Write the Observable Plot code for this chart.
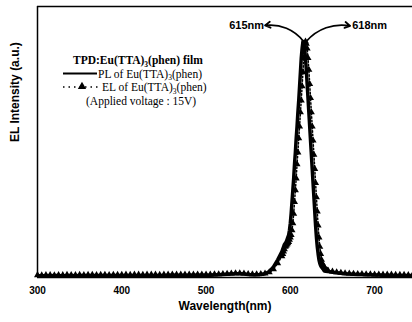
<!DOCTYPE html>
<html><head><meta charset="utf-8">
<script src="https://cdn.jsdelivr.net/npm/d3@7"></script>
<script src="https://cdn.jsdelivr.net/npm/@observablehq/plot@0.6"></script>
<style>body{margin:0;background:#fff}#chart{width:412px;height:322px;overflow:hidden}</style>
</head><body><div id="chart"></div>
<script>
// Wavelength sampling (nm)
const wavelength = [
300,305,310,315,320,325,330,335,340,345,350,355,360,365,370,375,380,385,390,395,
400,405,410,415,420,425,430,435,440,445,450,455,460,465,470,475,480,485,490,495,
500,505,510,515,520,525,530,535,540,545,550,555,560,565,570,575,580,585,
590,591,592,593,594,595,596,597,598,599,600,601,602,603,604,605,606,607,608,609,
610,611,612,613,614,615,616,617,618,619,620,621,622,623,624,625,626,627,628,629,
630,631,632,633,634,635,636,637,638,639,640,641,642,643,644,645,
650,655,660,665,670,675,680,685,690,695,700,705,710,715,720,725,730,735,740,745];

// PL of Eu(TTA)3(phen), normalized
const plIntensity = [
0.008,0.006,0.008,0.007,0.008,0.008,0.006,0.008,0.008,0.007,0.008,0.008,0.009,0.008,0.008,0.009,0.008,0.009,0.008,0.008,
0.009,0.009,0.008,0.009,0.009,0.009,0.009,0.008,0.009,0.009,0.009,0.010,0.010,0.010,0.010,0.009,0.010,0.010,0.010,0.010,
0.010,0.010,0.011,0.012,0.013,0.014,0.015,0.016,0.016,0.015,0.013,0.012,0.012,0.013,0.016,0.025,0.045,0.075,
0.11,0.12,0.13,0.14,0.145,0.15,0.16,0.17,0.18,0.20,0.23,0.27,0.32,0.37,0.42,0.48,0.53,0.59,0.64,0.70,
0.75,0.81,0.87,0.93,0.97,1.00,0.99,0.97,0.93,0.88,0.82,0.76,0.70,0.64,0.58,0.52,0.46,0.40,0.34,0.28,
0.22,0.17,0.13,0.10,0.075,0.06,0.05,0.045,0.04,0.035,0.03,0.03,0.028,0.026,0.025,0.025,
0.022,0.02,0.018,0.016,0.015,0.014,0.013,0.013,0.012,0.012,0.011,0.011,0.010,0.010,0.010,0.009,0.009,0.009,0.008,0.008];

// EL of Eu(TTA)3(phen), normalized (applied voltage 15 V)
const elIntensity = [
0.010,0.009,0.010,0.010,0.009,0.010,0.010,0.011,0.010,0.010,0.011,0.010,0.011,0.011,0.010,0.011,0.011,0.010,0.011,0.011,
0.011,0.012,0.011,0.012,0.012,0.011,0.012,0.012,0.012,0.011,0.012,0.012,0.013,0.012,0.012,0.013,0.013,0.012,0.013,0.013,
0.013,0.013,0.014,0.014,0.015,0.016,0.017,0.018,0.018,0.017,0.015,0.014,0.014,0.015,0.017,0.022,0.035,0.06,
0.09,0.10,0.11,0.12,0.13,0.135,0.14,0.145,0.15,0.16,0.17,0.18,0.20,0.23,0.27,0.32,0.37,0.42,0.48,0.53,
0.59,0.64,0.70,0.75,0.81,0.87,0.93,0.97,1.00,0.99,0.97,0.93,0.88,0.82,0.76,0.70,0.64,0.58,0.52,0.46,
0.40,0.34,0.28,0.22,0.17,0.13,0.10,0.075,0.06,0.05,0.045,0.04,0.035,0.03,0.03,0.028,
0.025,0.022,0.02,0.018,0.017,0.016,0.015,0.015,0.014,0.014,0.013,0.013,0.012,0.012,0.012,0.011,0.011,0.011,0.010,0.010];

const xTicks = [300, 400, 500, 600, 700];
const peakLabels = ["615nm", "618nm"];
const peakWavelength = [615.7, 619];      // arrow start on the peak top
const labelWavelength = [570, 671];       // arrow end near the label
const labelLevel = [1.068, 1.066];

const pl = wavelength.map((w, i) => ({w, v: plIntensity[i]}));
const el = wavelength.map((w, i) => ({w, v: elIntensity[i]}));
const ann = peakLabels.map((t, i) => ({t, x1: peakWavelength[i], y1: 1.0, x2: labelWavelength[i], y2: labelLevel[i], side: i}));

const sans = "'Liberation Sans', Arial, Helvetica, sans-serif";
const serif = "'Liberation Serif', 'Times New Roman', serif";

const chart = Plot.plot({
  width: 412, height: 322,
  marginLeft: 37, marginRight: 0, marginTop: 6, marginBottom: 45,
  style: {fontFamily: sans, background: "#fff", color: "#000", overflow: "visible"},
  x: {domain: [300, 745]},
  y: {domain: [0, 1.148], axis: null},
  marks: [
    Plot.ruleX([300], {stroke: "#000", strokeWidth: 1.5}),
    Plot.ruleY([1.148], {stroke: "#000", strokeWidth: 1.5}),
    Plot.ruleY([0], {stroke: "#000", strokeWidth: 1.5}),
    Plot.axisX({ticks: xTicks, tickSize: 0, tickPadding: 9, tickFormat: d => d, fontSize: 10, fontWeight: "bold", label: null}),
    Plot.text(["Wavelength(nm)"], {frameAnchor: "bottom", dy: 32, fontSize: 12, fontWeight: "bold"}),
    Plot.text(["EL Intensity (a.u.)"], {frameAnchor: "left", dx: -22, rotate: -90, fontSize: 12, fontWeight: "bold"}),
    Plot.line(pl, {x: "w", y: "v", stroke: "#000", strokeWidth: 3.5, curve: "linear"}),
    Plot.line(el, {x: "w", y: "v", stroke: "#000", strokeWidth: 1.5, strokeDasharray: "1.5,2"}),
    Plot.dot(el, {x: "w", y: "v", symbol: "triangle", r: 2.6, fill: "#000", stroke: "none"}),
    Plot.arrow(ann.filter(d => d.side === 0), {x1: "x1", y1: "y1", x2: "x2", y2: "y2", bend: -30, strokeWidth: 1.8, headLength: 5, stroke: "#000"}),
    Plot.arrow(ann.filter(d => d.side === 1), {x1: "x1", y1: "y1", x2: "x2", y2: "y2", bend: 30, strokeWidth: 1.8, headLength: 5, stroke: "#000"}),
    Plot.text(ann.filter(d => d.side === 0), {x: "x2", y: "y2", text: "t", textAnchor: "end", dx: -1, fontSize: 11, fontWeight: "bold"}),
    Plot.text(ann.filter(d => d.side === 1), {x: "x2", y: "y2", text: "t", textAnchor: "start", dx: 2, fontSize: 11, fontWeight: "bold"})
  ]
});
document.getElementById("chart").append(chart);

// Legend (drawn in pixel space, inside the frame, top-left)
const svg = d3.select(chart);
const g = svg.append("g").attr("font-family", serif).attr("fill", "#000").attr("text-anchor", "start");
function eu(textSel, prefix, suffix) {
  textSel.append("tspan").text(prefix);
  textSel.append("tspan").attr("font-size", 7.5).attr("dy", 2.5).text("3");
  textSel.append("tspan").attr("dy", -2.5).text(suffix);
}
const fs = 11.5;
const t0 = g.append("text").attr("x", 73).attr("y", 64).attr("font-size", fs).attr("font-weight", "bold");
eu(t0, "TPD:Eu(TTA)", "(phen) film");
g.append("line").attr("x1", 63).attr("x2", 97).attr("y1", 73.5).attr("y2", 73.5).attr("stroke", "#000").attr("stroke-width", 2);
const t1 = g.append("text").attr("x", 98).attr("y", 77.5).attr("font-size", fs);
eu(t1, "PL of Eu(TTA)", "(phen)");
g.append("line").attr("x1", 63).attr("x2", 99).attr("y1", 87).attr("y2", 87).attr("stroke", "#000").attr("stroke-width", 1.5).attr("stroke-dasharray", "1.5,4");
g.append("path").attr("d", d3.symbol(d3.symbolTriangle, 30)()).attr("transform", "translate(82,86.5)");
const t2 = g.append("text").attr("x", 102).attr("y", 91).attr("font-size", fs);
eu(t2, "EL of Eu(TTA)", "(phen)");
g.append("text").attr("x", 86).attr("y", 104.5).attr("font-size", fs).text("(Applied voltage : 15V)");
</script>
</body></html>
